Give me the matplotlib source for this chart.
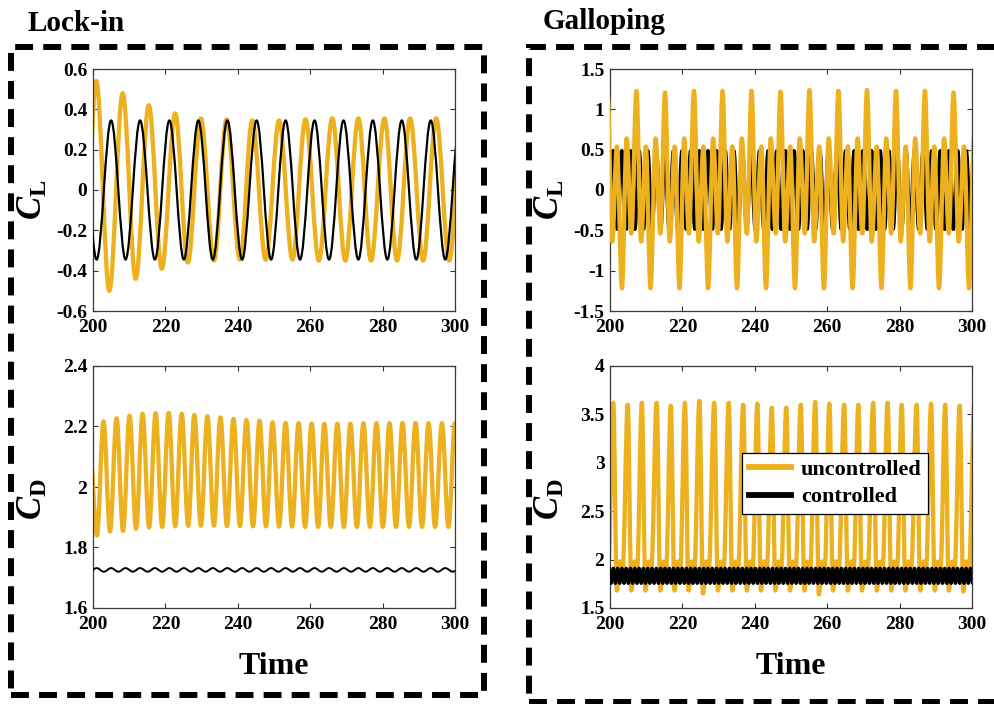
import matplotlib
matplotlib.use('Agg')
import matplotlib.pyplot as plt
from matplotlib.path import Path
from matplotlib.patches import PathPatch, Rectangle
from matplotlib.lines import Line2D

# ---------------- data (extrema) ----------------
time_ticks = [200, 220, 240, 260, 280, 300]
time_tick_labels = ['200', '220', '240', '260', '280', '300']

lock_cl_ticks = [-0.6, -0.4, -0.2, 0, 0.2, 0.4, 0.6]
lock_cl_labels = ['-0.6', '-0.4', '-0.2', '0', '0.2', '0.4', '0.6']
lock_cd_ticks = [1.6, 1.8, 2.0, 2.2, 2.4]
lock_cd_labels = ['1.6', '1.8', '2', '2.2', '2.4']
gal_cl_ticks = [-1.5, -1, -0.5, 0, 0.5, 1, 1.5]
gal_cl_labels = ['-1.5', '-1', '-0.5', '0', '0.5', '1', '1.5']
gal_cd_ticks = [1.5, 2, 2.5, 3, 3.5, 4]
gal_cd_labels = ['1.5', '2', '2.5', '3', '3.5', '4']

legend_labels = ['uncontrolled', 'controlled']
panel_titles = ['Lock-in', 'Galloping']

# Lock-in, lift, uncontrolled (orange): successive extrema
or_lock_cl_t = [197.3, 200.9, 204.5, 208.2, 211.8, 215.4, 219.0, 222.7, 226.2, 229.8,
                233.4, 236.9, 240.6, 244.0, 247.7, 251.4, 255.1, 258.7, 262.4, 266.1,
                269.7, 273.3, 276.8, 280.5, 284.0, 287.6, 291.2, 294.8, 298.4, 302.0]
or_lock_cl_v = [-0.56, 0.54, -0.50, 0.48, -0.44, 0.42, -0.39, 0.38, -0.36, 0.355,
                -0.35, 0.35, -0.345, 0.345, -0.345, 0.345, -0.345, 0.35, -0.35, 0.355,
                -0.35, 0.355, -0.35, 0.355, -0.35, 0.355, -0.35, 0.355, -0.35, 0.355]

# Lock-in, lift, controlled (black)
bk_lock_cl_t = [197.0, 201.0, 205.0, 209.0, 213.0, 217.1, 221.1, 225.1, 229.1, 233.1,
                237.1, 241.2, 245.2, 249.2, 253.2, 257.2, 261.2, 265.2, 269.2, 273.3,
                277.3, 281.3, 285.3, 289.3, 293.3, 297.3, 301.4]
bk_lock_cl_v = [0.345, -0.345, 0.345, -0.345, 0.345, -0.345, 0.345, -0.345, 0.345, -0.345,
                0.345, -0.345, 0.345, -0.345, 0.345, -0.345, 0.345, -0.345, 0.345, -0.345,
                0.345, -0.345, 0.345, -0.345, 0.345, -0.345, 0.345]

# Lock-in, drag, uncontrolled (orange)
or_lock_cd_t = [199.0,
                201.1, 202.9, 204.7, 206.5, 208.3, 210.1, 211.9, 213.7, 215.5, 217.3,
                219.1, 220.9, 222.7, 224.5, 226.3, 228.0, 229.8, 231.6, 233.4, 235.2,
                237.0, 238.8, 240.6, 242.4, 244.2, 246.0, 247.8, 249.6, 251.4, 253.2,
                255.0, 256.8, 258.6, 260.4, 262.2, 263.9, 265.7, 267.5, 269.3, 271.1,
                272.9, 274.7, 276.5, 278.3, 280.1, 281.9, 283.7, 285.5, 287.3, 289.1,
                290.9, 292.7, 294.5, 296.4, 298.2, 300.0, 301.8]
or_lock_cd_v = [2.15,
                1.840, 2.217, 1.853, 2.227, 1.855, 2.236, 1.862, 2.242, 1.866, 2.244,
                1.868, 2.245, 1.870, 2.242, 1.872, 2.238, 1.872, 2.234, 1.872, 2.230,
                1.871, 2.225, 1.871, 2.221, 1.870, 2.219, 1.870, 2.214, 1.869, 2.212,
                1.869, 2.211, 1.868, 2.210, 1.868, 2.209, 1.868, 2.209, 1.868, 2.209,
                1.868, 2.211, 1.868, 2.211, 1.868, 2.211, 1.868, 2.212, 1.868, 2.212,
                1.868, 2.211, 1.868, 2.211, 1.868, 2.211, 1.868]

# Lock-in, drag, controlled (black)
bk_lock_cd_t = [197.0, 199.0, 201.0, 203.0, 205.0, 207.0, 209.0, 211.0, 213.0, 215.1,
                217.1, 219.1, 221.1, 223.1, 225.1, 227.1, 229.1, 231.1, 233.1, 235.1,
                237.1, 239.2, 241.2, 243.2, 245.2, 247.2, 249.2, 251.2, 253.2, 255.2,
                257.2, 259.2, 261.2, 263.2, 265.2, 267.3, 269.3, 271.3, 273.3, 275.3,
                277.3, 279.3, 281.3, 283.3, 285.3, 287.3, 289.3, 291.3, 293.3, 295.3,
                297.3, 299.4, 301.4]
bk_lock_cd_v = [1.732, 1.720, 1.732, 1.720, 1.732, 1.720, 1.732, 1.720, 1.732, 1.720,
                1.732, 1.720, 1.732, 1.720, 1.732, 1.720, 1.732, 1.720, 1.732, 1.720,
                1.732, 1.720, 1.732, 1.720, 1.732, 1.720, 1.732, 1.720, 1.732, 1.720,
                1.732, 1.720, 1.732, 1.720, 1.732, 1.720, 1.732, 1.720, 1.732, 1.720,
                1.732, 1.720, 1.732, 1.720, 1.732, 1.720, 1.732, 1.720, 1.732, 1.720,
                1.732, 1.720, 1.732]

# Galloping, lift, uncontrolled (orange)
or_gal_cl_t = [199.3, 200.6, 201.9, 203.3, 204.6, 205.9,
               207.3, 208.6, 209.9, 211.2, 212.6, 213.9,
               215.2, 216.5, 217.9, 219.2, 220.5, 221.8,
               223.2, 224.5, 225.8, 227.1, 228.5, 229.8,
               231.1, 232.4, 233.8, 235.1, 236.4, 237.8,
               239.1, 240.4, 241.8, 243.1, 244.4, 245.8,
               247.1, 248.4, 249.8, 251.1, 252.4, 253.8,
               255.1, 256.4, 257.8, 259.1, 260.4, 261.8,
               263.1, 264.4, 265.7, 267.0, 268.4, 269.7,
               271.0, 272.3, 273.7, 275.0, 276.3, 277.7,
               279.0, 280.3, 281.7, 283.0, 284.3, 285.7,
               287.0, 288.3, 289.6, 290.9, 292.3, 293.6,
               294.9, 296.3, 297.8, 299.2, 300.5, 301.7,
               302.9]
or_gal_cl_v = [1.23, -0.64, 0.54, -1.22, 0.64, -0.54,
               1.23, -0.64, 0.54, -1.22, 0.64, -0.54,
               1.21, -0.64, 0.54, -1.22, 0.64, -0.54,
               1.23, -0.64, 0.54, -1.22, 0.64, -0.54,
               1.23, -0.64, 0.54, -1.22, 0.64, -0.54,
               1.23, -0.64, 0.54, -1.22, 0.64, -0.54,
               1.22, -0.64, 0.54, -1.22, 0.64, -0.54,
               1.24, -0.64, 0.54, -1.22, 0.64, -0.54,
               1.23, -0.64, 0.54, -1.22, 0.64, -0.54,
               1.24, -0.64, 0.54, -1.22, 0.64, -0.54,
               1.23, -0.64, 0.54, -1.22, 0.64, -0.54,
               1.23, -0.64, 0.54, -1.22, 0.64, -0.54,
               1.21, -0.64, 0.54, -1.22, 0.64, -0.54,
               1.22]

# Galloping, lift, controlled (black)
bk_gal_cl_t = [199.71, 200.90, 202.09, 203.28, 204.47, 205.66, 206.85, 208.03, 209.22, 210.41,
               211.60, 212.79, 213.98, 215.17, 216.36, 217.55, 218.74, 219.92, 221.11, 222.30,
               223.49, 224.68, 225.87, 227.06, 228.25, 229.44, 230.63, 231.81, 233.00, 234.19,
               235.38, 236.57, 237.76, 238.95, 240.14, 241.33, 242.52, 243.70, 244.89, 246.08,
               247.27, 248.46, 249.65, 250.84, 252.03, 253.22, 254.41, 255.59, 256.78, 257.97,
               259.16, 260.35, 261.54, 262.73, 263.92, 265.11, 266.30, 267.48, 268.67, 269.86,
               271.05, 272.24, 273.43, 274.62, 275.81, 277.00, 278.19, 279.37, 280.56, 281.75,
               282.94, 284.13, 285.32, 286.51, 287.70, 288.89, 290.08, 291.26, 292.45, 293.64,
               294.83, 296.02, 297.21, 298.40, 299.59, 300.78]
bk_gal_cl_v = [-0.485, 0.485, -0.485, 0.485, -0.485, 0.485, -0.485, 0.485, -0.485, 0.485,
               -0.485, 0.485, -0.485, 0.485, -0.485, 0.485, -0.485, 0.485, -0.485, 0.485,
               -0.485, 0.485, -0.485, 0.485, -0.485, 0.485, -0.485, 0.485, -0.485, 0.485,
               -0.485, 0.485, -0.485, 0.485, -0.485, 0.485, -0.485, 0.485, -0.485, 0.485,
               -0.485, 0.485, -0.485, 0.485, -0.485, 0.485, -0.485, 0.485, -0.485, 0.485,
               -0.485, 0.485, -0.485, 0.485, -0.485, 0.485, -0.485, 0.485, -0.485, 0.485,
               -0.485, 0.485, -0.485, 0.485, -0.485, 0.485, -0.485, 0.485, -0.485, 0.485,
               -0.485, 0.485, -0.485, 0.485, -0.485, 0.485, -0.485, 0.485, -0.485, 0.485,
               -0.485, 0.485, -0.485, 0.485, -0.485, 0.485]

# Galloping, drag, uncontrolled (orange): peak, deep dip, bump, dip per cycle
or_gal_cd_t = [196.9, 197.9, 198.8, 199.5, 200.9, 201.9, 202.8, 203.5,
               204.9, 205.9, 206.8, 207.5, 208.8, 209.8, 210.7, 211.4,
               212.9, 213.9, 214.8, 215.5, 216.8, 217.8, 218.7, 219.4,
               220.7, 221.7, 222.6, 223.3, 224.7, 225.7, 226.6, 227.3,
               228.8, 229.8, 230.7, 231.4, 232.8, 233.8, 234.7, 235.4,
               236.8, 237.8, 238.7, 239.4, 240.7, 241.7, 242.6, 243.3,
               244.7, 245.7, 246.6, 247.3, 248.7, 249.7, 250.6, 251.3,
               252.7, 253.7, 254.6, 255.3, 256.7, 257.7, 258.6, 259.3,
               260.6, 261.6, 262.5, 263.2, 264.7, 265.7, 266.6, 267.3,
               268.6, 269.6, 270.5, 271.2, 272.7, 273.7, 274.6, 275.3,
               276.7, 277.7, 278.6, 279.3, 280.6, 281.6, 282.5, 283.2,
               284.7, 285.7, 286.6, 287.3, 288.7, 289.7, 290.6, 291.3,
               292.6, 293.6, 294.5, 295.2, 296.6, 297.6, 298.5, 299.2,
               300.6]
or_gal_cd_v = [3.60, 1.68, 1.98, 1.90, 3.62, 1.68, 1.98, 1.90,
               3.60, 1.68, 1.98, 1.90, 3.62, 1.68, 1.98, 1.90,
               3.62, 1.68, 1.98, 1.90, 3.59, 1.68, 1.98, 1.90,
               3.62, 1.68, 1.98, 1.90, 3.64, 1.65, 1.98, 1.90,
               3.62, 1.68, 1.98, 1.90, 3.62, 1.68, 1.98, 1.90,
               3.60, 1.68, 1.98, 1.90, 3.61, 1.68, 1.98, 1.90,
               3.57, 1.68, 1.98, 1.90, 3.57, 1.68, 1.98, 1.90,
               3.60, 1.68, 1.98, 1.90, 3.63, 1.64, 1.98, 1.90,
               3.61, 1.68, 1.98, 1.90, 3.60, 1.68, 1.98, 1.90,
               3.60, 1.68, 1.98, 1.90, 3.62, 1.68, 1.98, 1.90,
               3.62, 1.68, 1.98, 1.90, 3.60, 1.68, 1.98, 1.90,
               3.60, 1.68, 1.98, 1.90, 3.61, 1.68, 1.98, 1.90,
               3.60, 1.68, 1.98, 1.90, 3.59, 1.67, 1.98, 1.90,
               3.60]

# Galloping, drag, controlled (black)
bk_gal_cd_t = [199.71, 200.30, 200.90, 201.49, 202.09, 202.68, 203.28, 203.87, 204.47, 205.06,
               205.66, 206.25, 206.85, 207.44, 208.03, 208.63, 209.22, 209.82, 210.41, 211.01,
               211.60, 212.20, 212.79, 213.39, 213.98, 214.58, 215.17, 215.76, 216.36, 216.95,
               217.55, 218.14, 218.74, 219.33, 219.92, 220.52, 221.11, 221.71, 222.30, 222.90,
               223.49, 224.09, 224.68, 225.28, 225.87, 226.47, 227.06, 227.65, 228.25, 228.84,
               229.44, 230.03, 230.63, 231.22, 231.81, 232.41, 233.00, 233.60, 234.19, 234.79,
               235.38, 235.98, 236.57, 237.17, 237.76, 238.35, 238.95, 239.54, 240.14, 240.73,
               241.33, 241.92, 242.52, 243.11, 243.70, 244.30, 244.89, 245.49, 246.08, 246.68,
               247.27, 247.87, 248.46, 249.06, 249.65, 250.24, 250.84, 251.43, 252.03, 252.62,
               253.22, 253.81, 254.41, 255.00, 255.59, 256.19, 256.78, 257.38, 257.97, 258.57,
               259.16, 259.76, 260.35, 260.95, 261.54, 262.13, 262.73, 263.32, 263.92, 264.51,
               265.11, 265.70, 266.30, 266.89, 267.48, 268.08, 268.67, 269.27, 269.86, 270.46,
               271.05, 271.65, 272.24, 272.84, 273.43, 274.02, 274.62, 275.21, 275.81, 276.40,
               277.00, 277.59, 278.19, 278.78, 279.37, 279.97, 280.56, 281.16, 281.75, 282.35,
               282.94, 283.54, 284.13, 284.73, 285.32, 285.91, 286.51, 287.10, 287.70, 288.29,
               288.89, 289.48, 290.08, 290.67, 291.26, 291.86, 292.45, 293.05, 293.64, 294.24,
               294.83, 295.43, 296.02, 296.62, 297.21, 297.80, 298.40, 298.99, 299.59, 300.18,
               300.78]
bk_gal_cd_v = [1.91, 1.755, 1.91, 1.755, 1.91, 1.755, 1.91, 1.755, 1.91, 1.755,
               1.91, 1.755, 1.91, 1.755, 1.91, 1.755, 1.91, 1.755, 1.91, 1.755,
               1.91, 1.755, 1.91, 1.755, 1.91, 1.755, 1.91, 1.755, 1.91, 1.755,
               1.91, 1.755, 1.91, 1.755, 1.91, 1.755, 1.91, 1.755, 1.91, 1.755,
               1.91, 1.755, 1.91, 1.755, 1.91, 1.755, 1.91, 1.755, 1.91, 1.755,
               1.91, 1.755, 1.91, 1.755, 1.91, 1.755, 1.91, 1.755, 1.91, 1.755,
               1.91, 1.755, 1.91, 1.755, 1.91, 1.755, 1.91, 1.755, 1.91, 1.755,
               1.91, 1.755, 1.91, 1.755, 1.91, 1.755, 1.91, 1.755, 1.91, 1.755,
               1.91, 1.755, 1.91, 1.755, 1.91, 1.755, 1.91, 1.755, 1.91, 1.755,
               1.91, 1.755, 1.91, 1.755, 1.91, 1.755, 1.91, 1.755, 1.91, 1.755,
               1.91, 1.755, 1.91, 1.755, 1.91, 1.755, 1.91, 1.755, 1.91, 1.755,
               1.91, 1.755, 1.91, 1.755, 1.91, 1.755, 1.91, 1.755, 1.91, 1.755,
               1.91, 1.755, 1.91, 1.755, 1.91, 1.755, 1.91, 1.755, 1.91, 1.755,
               1.91, 1.755, 1.91, 1.755, 1.91, 1.755, 1.91, 1.755, 1.91, 1.755,
               1.91, 1.755, 1.91, 1.755, 1.91, 1.755, 1.91, 1.755, 1.91, 1.755,
               1.91, 1.755, 1.91, 1.755, 1.91, 1.755, 1.91, 1.755, 1.91, 1.755,
               1.91, 1.755, 1.91, 1.755, 1.91, 1.755, 1.91, 1.755, 1.91, 1.755,
               1.91]

# ---------------- style ----------------
ORANGE = '#EDB120'
BLACK = '#000000'

plt.rcParams['font.family'] = ['Liberation Serif', 'DejaVu Serif']
plt.rcParams['font.weight'] = 'bold'
plt.rcParams['axes.labelweight'] = 'bold'
plt.rcParams['mathtext.fontset'] = 'custom'
plt.rcParams['mathtext.rm'] = 'Liberation Serif:bold'
plt.rcParams['mathtext.it'] = 'Liberation Serif:italic:bold'
plt.rcParams['mathtext.bf'] = 'Liberation Serif:bold'
plt.rcParams['axes.unicode_minus'] = False

W, H = 995, 704
fig = plt.figure(figsize=(W / 100, H / 100), dpi=100)


def ax_at(x0, y0, x1, y1):
    return fig.add_axes([x0 / W, 1 - y1 / H, (x1 - x0) / W, (y1 - y0) / H])


def wave(ax, ts, vs, color, lw, z):
    """Smooth curve through successive extrema (horizontal tangent at each)."""
    n = min(len(ts), len(vs))
    verts = [(ts[0], vs[0])]
    codes = [Path.MOVETO]
    for i in range(1, n):
        t0, v0, t1, v1 = ts[i - 1], vs[i - 1], ts[i], vs[i]
        d = (t1 - t0) * 0.36
        verts += [(t0 + d, v0), (t1 - d, v1), (t1, v1)]
        codes += [Path.CURVE4] * 3
    ax.add_patch(PathPatch(Path(verts, codes), facecolor='none', edgecolor=color,
                           lw=lw, zorder=z, joinstyle='round', capstyle='round'))


def style(ax, yticks, ylabels, ylim, ylab, ylab_y, xlab=None):
    ax.set_xlim(200, 300)
    ax.set_ylim(*ylim)
    ax.set_xticks(time_ticks)
    ax.set_xticklabels(time_tick_labels)
    ax.set_yticks(yticks)
    ax.set_yticklabels(ylabels)
    ax.tick_params(axis='both', direction='in', top=True, right=True, length=3.5,
                   width=0.8, labelsize=14, colors='#333333', labelcolor='black')
    ax.tick_params(axis='x', pad=6)
    ax.tick_params(axis='y', pad=4)
    for s in ax.spines.values():
        s.set_color('#3a3a3a')
        s.set_linewidth(0.9)
    ax.set_ylabel(ylab, fontsize=25)
    ax.yaxis.set_label_coords(-0.118, ylab_y)
    if xlab:
        ax.set_xlabel(xlab, fontsize=23, fontweight='bold')
        ax.xaxis.set_label_coords(0.5, -0.18)


ax_lcl = ax_at(93, 69, 455, 311)
ax_lcd = ax_at(93, 366, 455, 608)
ax_gcl = ax_at(610, 69, 972, 311)
ax_gcd = ax_at(610, 366, 972, 608)

wave(ax_lcl, or_lock_cl_t, or_lock_cl_v, ORANGE, 3.1, 2)
wave(ax_lcl, bk_lock_cl_t, bk_lock_cl_v, BLACK, 1.6, 3)
wave(ax_lcd, or_lock_cd_t, or_lock_cd_v, ORANGE, 3.1, 2)
wave(ax_lcd, bk_lock_cd_t, bk_lock_cd_v, BLACK, 1.4, 3)
wave(ax_gcl, bk_gal_cl_t, bk_gal_cl_v, BLACK, 2.7, 2)
wave(ax_gcl, or_gal_cl_t, or_gal_cl_v, ORANGE, 3.1, 3)
wave(ax_gcd, or_gal_cd_t, or_gal_cd_v, ORANGE, 3.1, 2)
wave(ax_gcd, bk_gal_cd_t, bk_gal_cd_v, BLACK, 2.4, 3)

style(ax_lcl, lock_cl_ticks, lock_cl_labels, (-0.6, 0.6), r'$C_{\mathrm{L}}$', 0.46)
style(ax_lcd, lock_cd_ticks, lock_cd_labels, (1.6, 2.4), r'$C_{\mathrm{D}}$', 0.45, 'Time')
style(ax_gcl, gal_cl_ticks, gal_cl_labels, (-1.5, 1.5), r'$C_{\mathrm{L}}$', 0.46)
style(ax_gcd, gal_cd_ticks, gal_cd_labels, (1.5, 4.0), r'$C_{\mathrm{D}}$', 0.45, 'Time')

handles = [Line2D([], [], color=ORANGE, lw=4.2), Line2D([], [], color=BLACK, lw=4.2)]
leg = ax_gcd.legend(handles, legend_labels, loc='upper left',
                    bbox_to_anchor=(0.3646, 0.6405), borderaxespad=0,
                    prop={'family': 'Liberation Serif', 'weight': 'bold', 'size': 16},
                    frameon=True, fancybox=False, framealpha=1, edgecolor='black',
                    borderpad=0.3, labelspacing=0.3, handlelength=1.9,
                    handletextpad=0.45)
leg.get_frame().set_linewidth(0.9)
leg.set_zorder(10)

fig.text(28 / W, 1 - 31 / H, panel_titles[0], fontsize=21, ha='left', va='baseline')
fig.text(543 / W, 1 - 29 / H, panel_titles[1], fontsize=21, ha='left', va='baseline')

dash = (0, (3.0, 1.7))
fig.add_artist(Rectangle((11 / W, 1 - 695 / H), 473 / W, 648 / H, transform=fig.transFigure,
                         fill=False, lw=4.3, ls=dash, ec='black', clip_on=False))
fig.add_artist(Rectangle((529 / W, 1 - 702 / H), (1030 - 529) / W, 655 / H,
                         transform=fig.transFigure, fill=False, lw=4.3, ls=dash,
                         ec='black', clip_on=False))

fig.savefig('out.png', dpi=100)
